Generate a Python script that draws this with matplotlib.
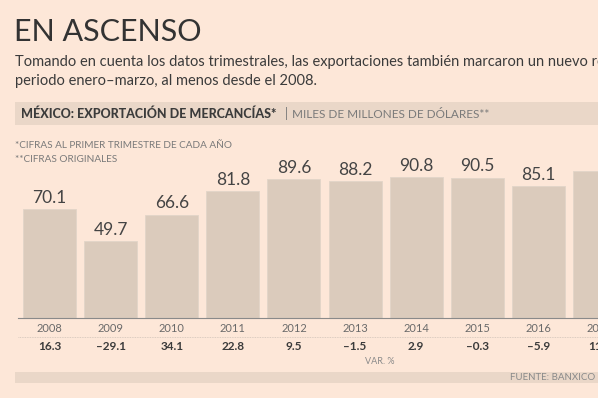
import matplotlib.pyplot as plt
import matplotlib.transforms as mtransforms
from matplotlib.patches import Rectangle

# datos
years = ['2008', '2009', '2010', '2011', '2012', '2013', '2014', '2015', '2016', '2017']
exports = [70.1, 49.7, 66.6, 81.8, 89.6, 88.2, 90.8, 90.5, 85.1, 94.6]
var_pct = ['16.3', '–29.1', '34.1', '22.8', '9.5', '–1.5', '2.9', '–0.3', '–5.9', '11.2']

BG = '#fde7d8'
BAR = '#dbcbbc'
BAND = '#ead7c8'
DARK = '#3b3b3b'
GRAY = '#7a7a7a'

plt.rcParams['font.family'] = ['Lato', 'DejaVu Sans']

W, H = 598, 398
fig = plt.figure(figsize=(W / 100, H / 100), dpi=100, facecolor=BG)


def fx(x):
    return x / W


def fy(y):
    return 1 - y / H


# titulo y subtitulo
fig.text(fx(14), fy(32), 'EN ASCENSO', fontsize=22, weight='normal', color='#333333', va='center')
fig.text(fx(15), fy(62), 'Tomando en cuenta los datos trimestrales, las exportaciones también marcaron un nuevo récord en el',
         fontsize=10.5, color=DARK, va='center')
fig.text(fx(15), fy(81), 'periodo enero–marzo, al menos desde el 2008.', fontsize=10.5, color=DARK, va='center')

# banda del encabezado
fig.patches.append(Rectangle((fx(15), fy(125)), 1 - fx(15), fy(102) - fy(125),
                             transform=fig.transFigure, facecolor=BAND, edgecolor='none'))
fig.text(fx(21), fy(114), 'MÉXICO: EXPORTACIÓN DE MERCANCÍAS*', fontsize=9.0, weight='black', color=DARK, va='center')
fig.text(fx(285), fy(114), '|', fontsize=9, color=GRAY, va='center')
fig.text(fx(292), fy(114), 'MILES DE MILLONES DE DÓLARES**', fontsize=8.5, color=GRAY, va='center')

# notas
fig.text(fx(15), fy(145), '*CIFRAS AL PRIMER TRIMESTRE DE CADA AÑO', fontsize=7.2, color=GRAY, va='center')
fig.text(fx(15), fy(160), '**CIFRAS ORIGINALES', fontsize=7.2, color=GRAY, va='center')

# grafica de barras
ax = fig.add_axes([fx(18), fy(318), 1 - fx(18), fy(160) - fy(318)])
ax.set_facecolor('none')
x = list(range(len(years)))
ax.bar(x, exports, width=0.867, color=BAR, edgecolor='#e2d5c8', linewidth=0.6)
ax.set_xlim(-0.516, 8.977)
ax.set_ylim(0, 102)
for s in ['top', 'right', 'left']:
    ax.spines[s].set_visible(False)
ax.spines['bottom'].set_color('#8a8a8a')
ax.spines['bottom'].set_linewidth(0.8)
ax.set_xticks([])
ax.set_yticks([])

for xi, v in zip(x, exports):
    ax.annotate(f'{v:.1f}', (xi, v), xytext=(0, 2.5), textcoords='offset points',
                ha='center', va='bottom', fontsize=12.5, weight='normal', color='#444444')

trans = mtransforms.blended_transform_factory(ax.transData, fig.transFigure)
for xi, yr, vp in zip(x, years, var_pct):
    ax.text(xi, fy(328), yr, transform=trans, ha='center', va='center', fontsize=8, color='#6a6a6a')
    ax.text(xi, fy(347), vp, transform=trans, ha='center', va='center', fontsize=8.5, weight='bold', color=DARK)

# linea punteada
fig.add_artist(plt.Line2D([fx(18), 1], [fy(337), fy(337)], transform=fig.transFigure,
                          color='#cfc3b8', linewidth=0.6, linestyle=(0, (1, 1))))
fig.text(fx(380), fy(361), 'VAR. %', fontsize=6.5, color='#8a8a8a', ha='center', va='center')

# banda inferior
fig.patches.append(Rectangle((fx(15), fy(383)), 1 - fx(15), fy(372) - fy(383),
                             transform=fig.transFigure, facecolor=BAND, edgecolor='none'))
fig.text(fx(595), fy(378), 'FUENTE: BANXICO', fontsize=7, color='#8a8a8a', ha='right', va='center')

fig.savefig('out.png', dpi=100, facecolor=BG)
